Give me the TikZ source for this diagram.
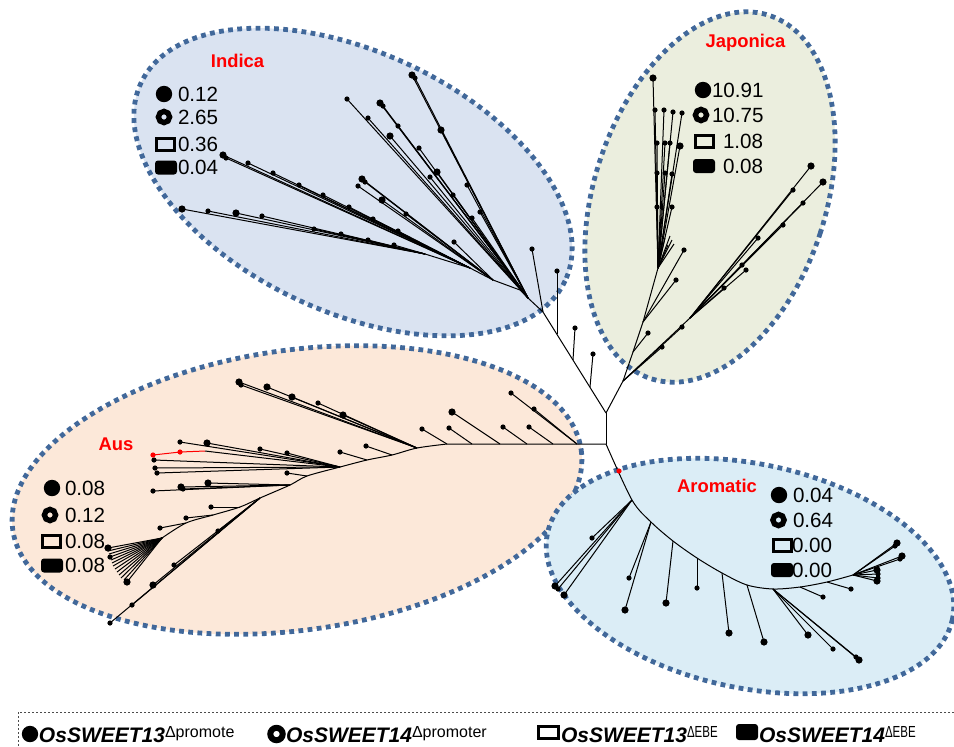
\documentclass[tikz,border=0pt]{standalone}
\usepackage{fontspec}
\usepackage{graphicx}
\setmainfont{Liberation Sans}
\usetikzlibrary{positioning}

\definecolor{dotblue}{RGB}{65,104,154}
\definecolor{indfill}{RGB}{218,227,241}
\definecolor{japfill}{RGB}{235,238,222}
\definecolor{ausfill}{RGB}{252,232,217}
\definecolor{arofill}{RGB}{219,237,246}

\newcommand{\keysup}[1]{\raisebox{2.4pt}{\fontsize{8}{9}\selectfont\mdseries\upshape #1}}

\begin{document}
\begin{tikzpicture}[x=0.5pt,y=-0.5pt,every node/.style={inner sep=0pt,outer sep=0pt}]
  \tikzstyle{group}=[line width=2.4pt,draw=dotblue,dash pattern=on 2.4pt off 2.2pt]
  \tikzstyle{br}=[line width=0.5pt,line join=round]
  \tikzstyle{leaf}=[circle,fill,minimum size=2.6pt]
  \tikzstyle{bigleaf}=[circle,fill,minimum size=3.6pt]
  \tikzstyle{grplabel}=[anchor=base,text=red,font=\fontsize{9.2}{11}\selectfont\bfseries]
  \tikzstyle{val}=[anchor=west,font=\fontsize{10.3}{12}\selectfont]
  \tikzstyle{sdot}=[circle,fill,minimum size=8.2pt]
  \tikzstyle{sring}=[circle,draw,line width=2.7pt,minimum size=5.6pt]
  \tikzstyle{sbox}=[draw,line width=1.5pt,minimum width=9pt,minimum height=6pt]
  \tikzstyle{sfill}=[fill,rounded corners=1.5pt,minimum width=11pt,minimum height=7pt]
  \tikzstyle{key}=[anchor=base west,font=\fontsize{10.5}{12}\selectfont\bfseries\itshape]

  \useasboundingbox (0,0) rectangle (954,746);

  % groups
  \draw[group,fill=indfill,rotate around={-25:(353,182)}] (353,182) ellipse [x radius=234,y radius=130];
  \draw[group,fill=japfill,rotate around={-18:(710,197)}] (710,197) ellipse [x radius=116,y radius=191];
  \draw[group,fill=ausfill,rotate around={8:(297,490)}] (297,490) ellipse [x radius=287,y radius=140];
  \draw[group,fill=arofill,rotate around={-12:(750,576)}] (750,576) ellipse [x radius=207,y radius=112];

  \node[grplabel] (lab-ind) at (237.5,67) {Indica};
  \node[grplabel] (lab-jap) at (745.5,47) {Japonica};
  \node[grplabel] (lab-aus) at (116,450) {Aus};
  \node[grplabel] (lab-aro) at (717,492) {Aromatic};

  % root
  \coordinate (r0) at (606,444);
  \coordinate (r1) at (606,413);
  \draw[br] (r0) -- (r1);

  % Indica
  \coordinate (s1) at (590,387);
  \coordinate (s2) at (573,360);
  \coordinate (s3) at (557,334);
  \coordinate (ia) at (543,312);
  \coordinate (ib) at (528,298);
  \coordinate (ic) at (520,290);
  \coordinate (id) at (493,280);
  \coordinate (ie) at (470,268);
  \coordinate (ig) at (425,254);
  \draw[br] (r1) -- (ia) -- (ib) -- (ic) -- (id) -- (ie) -- (ig);
  \foreach \h/\x/\y/\s [count=\k] in {s1/593/354/leaf, s2/575/328/leaf, s3/557/271/leaf, ia/532/249/leaf,
      ib/412/75/bigleaf, ib/415/78/leaf, ib/441/130/bigleaf, ib/467/185/leaf, ib/480/212/leaf,
      ib/380/103/bigleaf, ib/383/106/leaf, ib/398/126/leaf, ib/419/148/leaf, ib/437/172/bigleaf, ib/453/195/leaf, ib/472/218/leaf,
      ib/347/99/leaf, ib/368/118/leaf, ib/390/136/bigleaf, ib/430/177/leaf,
      id/362/179/bigleaf, id/365/182/leaf, id/358/186/leaf, id/382/200/bigleaf, id/406/214/leaf, id/454/242/leaf,
      ie/223/155/bigleaf, ie/226/158/leaf, ie/248/163/leaf, ie/273/173/leaf, ie/299/185/leaf, ie/323/195/leaf,
      ie/349/207/leaf, ie/373/219/leaf, ie/398/231/leaf,
      ig/182/209/bigleaf, ig/208/211/leaf, ig/236/213/bigleaf, ig/262/216/leaf, ig/314/229/leaf, ig/341/234/leaf,
      ig/368/240/leaf, ig/394/245/leaf}
    \draw[br] (\h) -- (\x,\y) node[\s] (ind\k) {};

  % Japonica
  \coordinate (j0) at (623,381);
  \coordinate (jb) at (633,352);
  \coordinate (ja) at (643,322);
  \coordinate (jc) at (658,268);
  \coordinate (je) at (690,318);
  \draw[br] (r1) -- (j0) -- (jb) -- (ja) -- (jc);
  \draw[br] (j0) -- (je);
  \foreach \h/\x/\y/\s [count=\k] in {jb/648/333/leaf, ja/676/280/leaf, ja/684/250/leaf, j0/662/347/leaf, j0/682/327/leaf,
      je/724/288/leaf, je/742/265/leaf, je/758/238/leaf, je/793/190/leaf, je/811/166/bigleaf,
      je/746/270/leaf, je/783/225/leaf, je/803/203/leaf, je/823/182/bigleaf,
      jc/653/78/bigleaf, jc/655/110/leaf, jc/664/110/leaf, jc/673/112/leaf, jc/682/113/leaf, jc/657/143/leaf,
      jc/665/143/leaf, jc/670/143/leaf, jc/680/146/bigleaf, jc/657/173/leaf, jc/665/173/leaf, jc/672/174/leaf,
      jc/657/207/leaf, jc/672/207/leaf}
    \draw[br] (\h) -- (\x,\y) node[\s] (jap\k) {};
  \foreach \x/\y in {672/240,668/245,665/238,674/244,670/236,662/244}
    \draw[br] (jc) -- (\x,\y);

  % Aus
  \foreach \x/\y [count=\k] in {590/444,577/444,553/444,527/444,500/444,472/444,447/444,417/448,392/455,
      367/460,340/467,307/476,290/485,260/498,240/507,213/515,186/523,162/538}
    \coordinate (a\k) at (\x,\y);
  \draw[br] (r0) -- (a1) -- (a7) plot[smooth,tension=0.5] coordinates {(a7) (a8) (a9) (a10) (a11) (a12) (a13) (a14) (a15) (a16) (a17) (a18)};
  \foreach \h/\x/\y/\s [count=\k] in {a2/534/409/leaf, a2/511/393/leaf, a3/529/427/leaf, a4/503/427/leaf, a5/452/412/bigleaf,
      a6/449/428/leaf, a7/422/429/leaf, a8/343/415/bigleaf, a8/318/403/leaf, a8/292/397/bigleaf, a8/267/387/bigleaf,
      a8/239/382/bigleaf, a8/241/385/leaf, a9/366/446/leaf, a10/340/452/leaf, a11/287/453/leaf, a11/260/449/leaf,
      a11/207/443/bigleaf, a11/180/442/leaf, a11/154/460/leaf, a11/155/468/leaf, a11/157/473/leaf, a12/287/473/leaf,
      a13/208/483/bigleaf, a13/181/487/bigleaf, a13/153/491/leaf, a13/183/489/leaf, a14/218/531/leaf, a14/174/565/leaf,
      a14/153/585/bigleaf, a14/132/605/leaf, a14/110/623/leaf, a15/211/507/leaf, a16/186/518/leaf, a17/160/528/leaf}
    \draw[br] (\h) -- (\x,\y) node[\s] (aus\k) {};
  \coordinate (ar) at (205,451);
  \draw[br] (a11) -- (ar);
  \draw[br,red] (ar) -- (180,452) node[leaf] (red1) {} -- (153,455) node[leaf] (red2) {};
  \foreach \x/\y in {108/548,108/551,109/554,110/557,111/560,112/563,113/566,115/569,117/572,119/575,121/578,124/580,127/582}
    \draw[br] (a18) -- (\x,\y);
  \node[bigleaf] (fan1) at (108,548) {};
  \node[leaf] (fan2) at (110,557) {};
  \node[bigleaf] (fan3) at (127,582) {};

  % Aromatic
  \foreach \x/\y [count=\k] in {632/500,651/522,673/541,697/558,722/573,747/585,773/589,800/587,827/582,853/575}
    \coordinate (m\k) at (\x,\y);
  \draw[br] plot[smooth,tension=0.5] coordinates {(r0) (m1) (m2) (m3) (m4) (m5) (m6) (m7) (m8) (m9) (m10)};
  \foreach \h/\x/\y/\s [count=\k] in {m1/592/538/leaf, m1/555/586/bigleaf, m1/558/589/leaf, m1/564/595/bigleaf,
      m2/625/610/bigleaf, m2/629/578/leaf, m3/666/603/bigleaf, m4/697/588/leaf, m5/729/633/bigleaf, m6/764/642/bigleaf,
      m7/808/635/bigleaf, m7/833/649/leaf, m7/859/660/bigleaf, m7/856/657/leaf, m8/823/597/leaf, m9/851/589/leaf,
      m10/897/543/bigleaf, m10/895/546/leaf, m10/902/556/bigleaf, m10/900/559/leaf, m10/877/570/bigleaf,
      m10/878/574/leaf, m10/878/578/leaf, m10/877/581/bigleaf}
    \draw[br] (\h) -- (\x,\y) node[\s] (aro\k) {};
  \node[leaf,fill=red] (rdot) at (619,471) {};

  % frequencies in each group
  \foreach \g/\s/\sx/\sy/\vx/\v [count=\k] in {
      ind/sdot/164/94/178/0.12, ind/sring/164/117/178/2.65, ind/sbox/165.5/144.5/178/0.36, ind/sfill/166/167.5/178/0.04,
      jap/sdot/703/90/712/10.91, jap/sring/701/115/712/10.75, jap/sbox/704/141/723/1.08, jap/sfill/704/166/723/0.08,
      aus/sdot/52/488/65/0.08, aus/sring/50/515/65/0.12, aus/sbox/51.5/541/65/0.08, aus/sfill/52/565.5/65/0.08,
      aro/sdot/779/495/793/0.04, aro/sring/778.5/520/793/0.64, aro/sbox/782/545/792/0.00, aro/sfill/782/570/792/0.00}
  {
    \node[\s] (\g-sym\k) at (\sx,\sy) {};
    \node[val] (\g-val\k) at (\vx,\sy) {\v};
  }

  % key
  \draw[line width=0.4pt,gray!60!black,dash pattern=on 1pt off 1pt] (954,712) -- (18,712) -- (18,746);
  \node[sdot] (key1) at (30,734) {};
  \node[key] (key1t) at (39,742) {OsSWEET13\keysup{Δpromote}};
  \node[sring,minimum size=6.2pt,line width=3pt] (key2) at (276.5,734) {};
  \node[key] (key2t) at (286,742) {OsSWEET14\keysup{Δpromoter}};
  \node[sbox,minimum width=10pt] (key3) at (548,732) {};
  \node[key] (key3t) at (561,742) {OsSWEET13\keysup{\scalebox{0.72}[1]{ΔEBE}}};
  \node[sfill,minimum height=8pt] (key4) at (747,732) {};
  \node[key] (key4t) at (759,742) {OsSWEET14\keysup{\scalebox{0.72}[1]{ΔEBE}}};
\end{tikzpicture}
\end{document}
